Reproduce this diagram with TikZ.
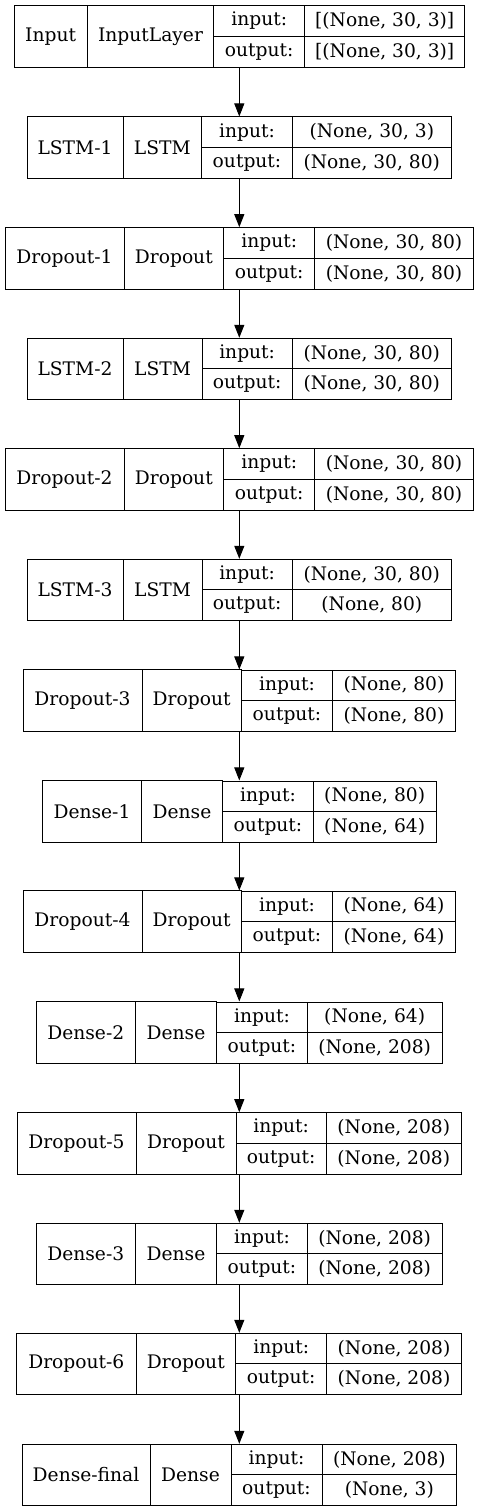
\documentclass[tikz,border=0pt]{standalone}
\usepackage{fontspec}
\setmainfont{DejaVu Serif}
\usetikzlibrary{arrows.meta}
\begin{document}
\begin{tikzpicture}[x=0.75pt,y=-0.75pt,line width=0.75pt,
  font=\fontsize{14pt}{16pt}\selectfont,
  frame/.style={inner sep=0pt,minimum height=46pt},
  cell/.style={draw,inner sep=0pt,minimum height=#1},
  flow/.style={-{Triangle[length=9.75pt,width=7.5pt]}}]
  \useasboundingbox (0,0) rectangle (479,1512);
  % one row per layer: top, cell edges, name, class, shapes
  \foreach \i/\t/\a/\b/\c/\d/\e/\nm/\cl/\inp/\outp in {%
    1/5.7/14/87.3/213.7/304.7/464.7/Input/InputLayer/{[(None, 30, 3)]}/{[(None, 30, 3)]},%
    2/117/27/123/201.7/292.3/451.3/LSTM-1/LSTM/{(None, 30, 3)}/{(None, 30, 80)},%
    3/227.7/5/124/223.7/314.7/473.3/Dropout-1/Dropout/{(None, 30, 80)}/{(None, 30, 80)},%
    4/338.3/27/123/202/292.3/451.3/LSTM-2/LSTM/{(None, 30, 80)}/{(None, 30, 80)},%
    5/448.7/5/124/223.7/314.7/473.3/Dropout-2/Dropout/{(None, 30, 80)}/{(None, 30, 80)},%
    6/559.3/27/123/202/292.3/451.3/LSTM-3/LSTM/{(None, 30, 80)}/{(None, 80)},%
    7/670/23/142/241.3/332.7/455.3/Dropout-3/Dropout/{(None, 80)}/{(None, 80)},%
    8/781/42.7/141.3/222.7/313.3/436/Dense-1/Dense/{(None, 80)}/{(None, 64)},%
    9/891/23/142/241.3/332.7/455.3/Dropout-4/Dropout/{(None, 64)}/{(None, 64)},%
    10/1002/36.3/135.3/216.7/307.3/442/Dense-2/Dense/{(None, 64)}/{(None, 208)},%
    11/1112.7/17/136/236/326.3/461.3/Dropout-5/Dropout/{(None, 208)}/{(None, 208)},%
    12/1223.3/36.3/135.3/216.7/307.3/442/Dense-3/Dense/{(None, 208)}/{(None, 208)},%
    13/1333.3/16.7/136/235.7/326.7/461.3/Dropout-6/Dropout/{(None, 208)}/{(None, 208)},%
    14/1444.3/22/150/231/322/456.7/Dense-final/Dense/{(None, 208)}/{(None, 3)}%
  }{
    \node[frame] (L\i) at (239.3,\t+30.65) {};
    \node[cell=46pt,minimum width={(\b-\a)*0.75pt}] (name\i) at ({(\a+\b)/2},\t+30.65) {\nm};
    \node[cell=46pt,minimum width={(\c-\b)*0.75pt}] (class\i) at ({(\b+\c)/2},\t+30.65) {\cl};
    \node[cell=23pt,minimum width={(\d-\c)*0.75pt}] (inkey\i) at ({(\c+\d)/2},\t+15.33) {input:};
    \node[cell=23pt,minimum width={(\e-\d)*0.75pt}] (inval\i) at ({(\d+\e)/2},\t+15.33) {\inp};
    \node[cell=23pt,minimum width={(\d-\c)*0.75pt}] (outkey\i) at ({(\c+\d)/2},\t+45.98) {output:};
    \node[cell=23pt,minimum width={(\e-\d)*0.75pt}] (outval\i) at ({(\d+\e)/2},\t+45.98) {\outp};
  }
  \foreach \i [evaluate=\i as \j using int(\i+1)] in {1,...,13}
    \draw[flow] (L\i.south) -- (L\j.north);
\end{tikzpicture}
\end{document}
